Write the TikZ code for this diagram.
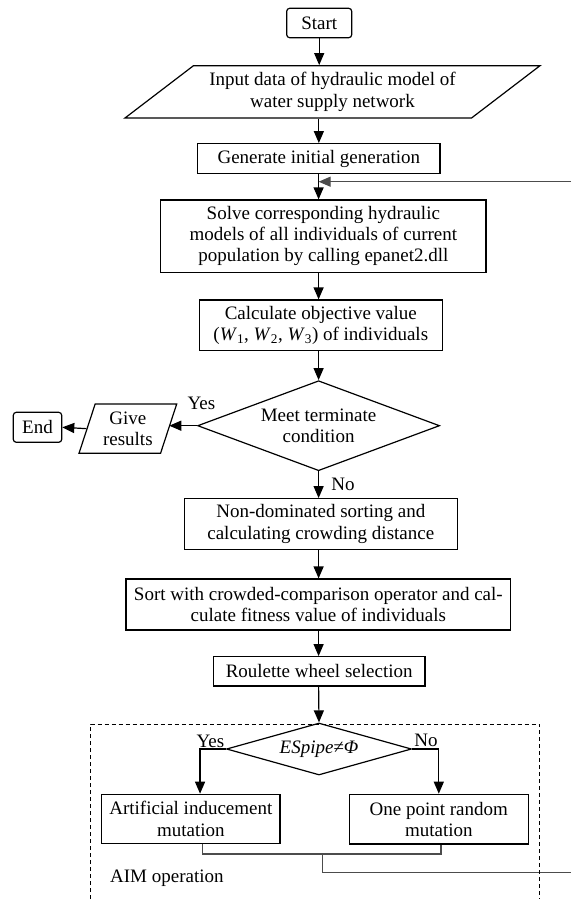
\documentclass[tikz,border=0pt]{standalone}
\usepackage{fontspec}
\setmainfont{Liberation Serif}
\usetikzlibrary{shapes.geometric, arrows.meta, positioning}

\begin{document}
\begin{tikzpicture}[x=1pt, y=-1pt,
  every node/.style={font=\fontsize{19}{21.3}\selectfont, align=center, inner sep=2pt},
  proc/.style={draw, line width=1.2pt, rectangle},
  term/.style={draw, line width=1.2pt, rectangle, rounded corners=3pt},
  io/.style={draw, line width=1.2pt, trapezium, trapezium stretches body},
  dec/.style={draw, line width=1.2pt, diamond, inner sep=0pt},
  lbl/.style={inner sep=0pt},
  arr/.style={-{Triangle[length=12pt,width=10pt]}, line width=1.2pt},
  back/.style={line width=1.2pt, black!70},
  aimbox/.style={line width=1pt, dash pattern=on 4pt off 3pt}]
\useasboundingbox (0,0) rectangle (571,899);

\coordinate (axis) at (318.6,0);
\coordinate (loopin) at (571,181.7);
\coordinate (mrg) at (322.5,854);
\coordinate (loopout) at (571,872.7);

\node[term, minimum width=65, minimum height=29.4] (start) at (319.2,23) {Start};
\node[io, minimum width=415, minimum height=52.3, trapezium left angle=32, trapezium right angle=148] (inp) at (332.5,91.85) {Input data of hydraulic model of\\water supply network};
\node[proc, minimum width=242.3, minimum height=29.6] (gen) at (318.85,158.5) {Generate initial generation};
\node[proc, minimum width=325.3, minimum height=72.3] (solve) at (323.35,236.15) {Solve corresponding hydraulic\\models of all individuals of current\\population by calling epanet2.dll};
\node[proc, minimum width=243, minimum height=50.7] (calc) at (320.8,325.35) {Calculate objective value\\(\textit{W}\textsubscript{1}, \textit{W}\textsubscript{2}, \textit{W}\textsubscript{3}) of individuals};
\node[dec, minimum width=242, minimum height=90, shape aspect=2.7] (meet) at (318.6,425.7) {Meet terminate\\condition};
\node[io, minimum width=97.7, minimum height=49.3, trapezium left angle=67, trapezium right angle=113] (res) at (127.85,428.65) {Give\\results};
\node[term, minimum width=48.4, minimum height=30] (end) at (37.5,427.3) {End};
\node[proc, minimum width=273, minimum height=50.6] (nds) at (320.8,524) {Non-dominated sorting and\\calculating crowding distance};
\node[proc, minimum width=384.7, minimum height=51] (sort) at (318.35,604.5) {Sort with crowded-comparison operator and cal-\\culate fitness value of individuals};
\node[proc, minimum width=211.7, minimum height=29.3] (roul) at (319.15,671.35) {Roulette wheel selection};
\node[dec, minimum width=185, minimum height=52, shape aspect=3.5] (esp) at (319,749) {\textit{ESpipe≠Φ}};
\node[proc, minimum width=178.3, minimum height=49] (art) at (190.85,818.8) {Artificial inducement\\mutation};
\node[proc, minimum width=179, minimum height=49.7] (one) at (438.8,819.15) {One point random\\mutation};

\node[lbl] (yes1) at (201.5,403) {Yes};
\node[lbl] (no1) at (343,484) {No};
\node[lbl] (yes2) at (210.5,741.7) {Yes};
\node[lbl] (no2) at (426,740.7) {No};
\node[lbl, anchor=west] (aim) at (110,878.3) {AIM operation};

\draw[arr] (start) -- (start |- inp.north);
\draw[arr] (gen |- inp.south) -- (gen);
\draw[arr] (axis |- gen.south) -- (axis |- solve.north);
\draw[arr, back] (loopin) -- (axis |- loopin);
\draw[arr] (axis |- solve.south) -- (axis |- calc.north);
\draw[arr] (axis |- calc.south) -- (meet.north);
\draw[arr] (meet.west) -- (meet.west -| res.east);
\draw[arr] (res.west) -- (end.east);
\draw[arr] (meet.south) -- (axis |- nds.north);
\draw[arr] (axis |- nds.south) -- (axis |- sort.north);
\draw[arr] (axis |- sort.south) -- (axis |- roul.north);
\draw[arr] (axis |- roul.south) -- (esp.north);
\draw[arr] (esp.west) -| ([xshift=9.2pt]art.north);
\draw[arr] (esp.east) -| (one.north);
\draw[back] ([xshift=11.85pt]art.south) |- (mrg) -| ([xshift=2.2pt]one.south);
\draw[back] (mrg) |- (loopout);

\draw[aimbox] (90.5,899) -- (90.5,724) -- (539.3,724) -- (539.3,899);
\end{tikzpicture}
\end{document}
